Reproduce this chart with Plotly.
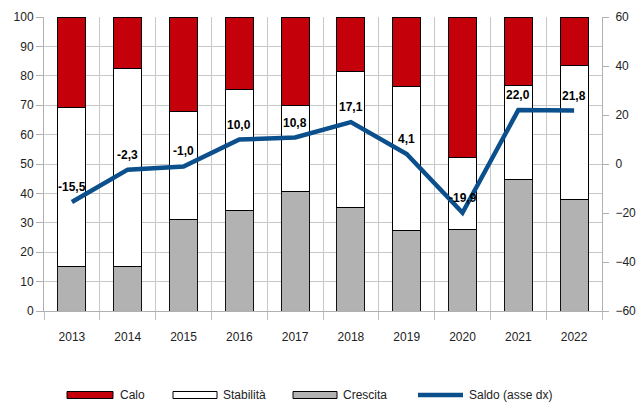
import plotly.graph_objects as go

years = ["2013", "2014", "2015", "2016", "2017", "2018", "2019", "2020", "2021", "2022"]
crescita = [15.0, 15.0, 31.0, 34.3, 40.5, 35.1, 27.3, 27.6, 44.8, 37.9]
stabilita = [54.3, 67.4, 36.8, 41.1, 29.5, 46.5, 49.1, 24.7, 32.0, 45.5]
calo = [30.7, 17.6, 32.2, 24.6, 30.0, 18.4, 23.6, 47.7, 23.2, 16.6]
saldo = [-15.5, -2.3, -1.0, 10.0, 10.8, 17.1, 4.1, -19.9, 22.0, 21.8]

saldo_text = [f"{v:.1f}".replace(".", ",") for v in saldo]

font = "Liberation Sans, Arial, sans-serif"
RED, WHITE, GREY, BLUE = "#c4000b", "#ffffff", "#b2b2b2", "#0b4f8c"

W, H = 636, 403
ML, MR, MT, MB = 44, 34, 17, 92
PW, PH = W - ML - MR, H - MT - MB


def px(x):
    return (x - ML) / PW


def py(y):
    return (H - MB - y) / PH


fig = go.Figure()
fig.add_trace(go.Bar(x=years, y=crescita, name="Crescita", marker=dict(color=GREY, line=dict(color="#111111", width=1))))
fig.add_trace(go.Bar(x=years, y=stabilita, name="Stabilità", marker=dict(color=WHITE, line=dict(color="#000000", width=1))))
fig.add_trace(go.Bar(x=years, y=calo, name="Calo", marker=dict(color=RED, line=dict(color="#000000", width=1))))
fig.add_trace(go.Scatter(x=years, y=saldo, name="Saldo (asse dx)", yaxis="y2", mode="lines",
                         line=dict(color=BLUE, width=4.5)))

annotations = []
for i, (v, t) in enumerate(zip(saldo, saldo_text)):
    annotations.append(dict(x=i, y=v, xref="x", yref="y2", text=f"<b>{t}</b>", showarrow=False,
                            yshift=15, font=dict(family=font, size=12, color="#000000")))

# custom legend
legend_items = [
    ("Calo", "rect", RED, 67, 113, 118),
    ("Stabilità", "rect", WHITE, 173, 217, 221),
    ("Crescita", "rect", GREY, 293, 337, 341),
    ("Saldo (asse dx)", "line", BLUE, 418, 463, 467),
]
shapes = []
ly = 395
for name, kind, col, x0, x1, tx in legend_items:
    if kind == "rect":
        shapes.append(dict(type="rect", xref="paper", yref="paper", x0=px(x0), x1=px(x1),
                           y0=py(ly + 3.5), y1=py(ly - 3.5), fillcolor=col,
                           line=dict(color="#000000", width=1)))
    else:
        shapes.append(dict(type="line", xref="paper", yref="paper", x0=px(x0), x1=px(x1),
                           y0=py(ly), y1=py(ly), line=dict(color=col, width=4.5)))
    annotations.append(dict(x=px(tx), y=py(ly), xref="paper", yref="paper", text=name, showarrow=False,
                            xanchor="left", yanchor="middle", font=dict(family=font, size=12, color="#222222")))

fig.update_layout(
    width=W, height=H,
    margin=dict(l=ML, r=MR, t=MT, b=MB, autoexpand=False),
    paper_bgcolor="#ffffff", plot_bgcolor="#ffffff",
    barmode="stack", bargap=0.5,
    font=dict(family=font, size=12, color="#222222"),
    showlegend=False,
    annotations=annotations,
    shapes=shapes,
    xaxis=dict(type="category", range=[-0.5, len(years) - 0.5], tickson="boundaries", showgrid=True,
               gridcolor="#c8c8c8", gridwidth=1, automargin=False,
               ticks="outside", ticklen=8, tickcolor="#c0c0c0", showline=True, linecolor="#b0b0b0",
               ticklabelstandoff=15, tickfont=dict(size=12, color="#222222")),
    yaxis=dict(range=[0, 100], dtick=10, showgrid=True, gridcolor="#c8c8c8", gridwidth=1, automargin=False,
               ticks="outside", ticklen=7, tickcolor="#b0b0b0", showline=True, linecolor="#b0b0b0",
               zeroline=False, tickfont=dict(size=12, color="#222222")),
    yaxis2=dict(range=[-60, 60], dtick=20, overlaying="y", side="right", showgrid=False, automargin=False,
                ticks="outside", ticklen=6, tickcolor="#b0b0b0", showline=True, linecolor="#b0b0b0",
                ticklabelstandoff=4, zeroline=False, tickfont=dict(size=12, color="#222222")),
)

fig.write_html("out.html")
